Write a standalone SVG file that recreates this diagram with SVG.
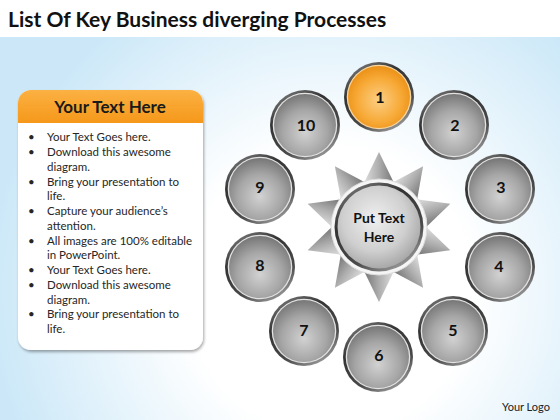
<svg xmlns="http://www.w3.org/2000/svg" xmlns:xlink="http://www.w3.org/1999/xlink" width="560" height="420" viewBox="0 0 560 420">
<defs>
<style>
.title{font-family:"Lato","Liberation Sans",sans-serif;font-weight:bold;font-size:21px;fill:#111}
.hdr{font-family:"Lato","Liberation Sans",sans-serif;font-weight:bold;font-size:17px;fill:#1a1a1a}
.body{font-family:"Lato","Liberation Sans",sans-serif;font-size:11.5px;fill:#262626}
.num{font-family:"Lato","Liberation Sans",sans-serif;font-weight:bold;font-size:16px;fill:#111;text-anchor:middle}
.ctr{font-family:"Lato","Liberation Sans",sans-serif;font-weight:bold;font-size:14px;fill:#111;text-anchor:middle}
.logo{font-family:"Lato","Liberation Sans",sans-serif;font-size:11px;fill:#222}
</style>
<radialGradient id="bg" gradientUnits="userSpaceOnUse" cx="330" cy="290" r="340">
<stop offset="0" stop-color="#ffffff"/>
<stop offset="0.42" stop-color="#ffffff"/>
<stop offset="1" stop-color="#cce8f8"/>
</radialGradient>
<linearGradient id="hdrG" x1="0" y1="0" x2="0" y2="1">
<stop offset="0" stop-color="#fbb143"/>
<stop offset="1" stop-color="#f5981a"/>
</linearGradient>
<linearGradient id="rim" x1="0.2" y1="0" x2="0.8" y2="1">
<stop offset="0" stop-color="#7a7a7a"/>
<stop offset="0.3" stop-color="#333333"/>
<stop offset="0.7" stop-color="#4a4a4a"/>
<stop offset="1" stop-color="#a8a8a8"/>
</linearGradient>
<radialGradient id="sph" cx="0.5" cy="0.62" r="0.6">
<stop offset="0" stop-color="#d2d2d2"/>
<stop offset="0.6" stop-color="#a6a6a6"/>
<stop offset="1" stop-color="#7a7a7a"/>
</radialGradient>
<radialGradient id="sphO" cx="0.5" cy="0.55" r="0.6">
<stop offset="0" stop-color="#fccf84"/>
<stop offset="0.6" stop-color="#f7a936"/>
<stop offset="1" stop-color="#e88a0e"/>
</radialGradient>
<radialGradient id="ctrG" cx="0.45" cy="0.4" r="0.65">
<stop offset="0" stop-color="#efefef"/>
<stop offset="0.6" stop-color="#cfcfcf"/>
<stop offset="1" stop-color="#a0a0a0"/>
</radialGradient>
<linearGradient id="spikeG" gradientUnits="userSpaceOnUse" x1="364" y1="0" x2="394" y2="0">
<stop offset="0" stop-color="#dedede"/>
<stop offset="0.5" stop-color="#adadad"/>
<stop offset="1" stop-color="#747474"/>
</linearGradient>
<filter id="sh" x="-10%" y="-10%" width="130%" height="130%">
<feDropShadow dx="1" dy="2" stdDeviation="1.5" flood-color="#000" flood-opacity="0.35"/>
</filter>
<polygon id="spike" points="364,183 379,152 394,183" fill="url(#spikeG)"/>
<g id="ball">
<circle r="35" fill="url(#rim)"/>
<circle r="32.3" fill="#e2e2e2"/>
<circle r="31" fill="url(#sph)"/>
</g>
<g id="ballO">
<circle r="35" fill="url(#rim)"/>
<circle r="32.3" fill="#f6d6a2"/>
<circle r="31" fill="url(#sphO)"/>
</g>
</defs>
<rect x="0" y="0" width="560" height="420" fill="url(#bg)"/>
<rect x="0" y="0" width="560" height="37" fill="#ffffff"/>
<text class="title" x="8" y="27">List Of Key Business diverging Processes</text>

<g id="textbox">
<rect x="18" y="90" width="185" height="260" rx="13" fill="#ffffff" filter="url(#sh)"/>
<path d="M18,123 V103 A13,13 0 0 1 31,90 H190 A13,13 0 0 1 203,103 V123 Z" fill="url(#hdrG)"/>
<text class="hdr" x="110" y="113" text-anchor="middle">Your Text Here</text>
<g class="body">
<text x="28" y="141">•</text><text x="47" y="141">Your Text Goes here.</text>
<text x="28" y="156">•</text><text x="47" y="156">Download this awesome</text>
<text x="47" y="171">diagram.</text>
<text x="28" y="186">•</text><text x="47" y="186">Bring your presentation to</text>
<text x="47" y="200">life.</text>
<text x="28" y="215">•</text><text x="47" y="215">Capture your audience’s</text>
<text x="47" y="230">attention.</text>
<text x="28" y="245">•</text><text x="47" y="245">All images are 100% editable</text>
<text x="47" y="259">in PowerPoint.</text>
<text x="28" y="274">•</text><text x="47" y="274">Your Text Goes here.</text>
<text x="28" y="289">•</text><text x="47" y="289">Download this awesome</text>
<text x="47" y="304">diagram.</text>
<text x="28" y="318">•</text><text x="47" y="318">Bring your presentation to</text>
<text x="47" y="333">life.</text>
</g>
</g>

<g id="connectors"></g>

<g id="center">
<use xlink:href="#spike" href="#spike"/>
<use xlink:href="#spike" href="#spike" transform="rotate(36 379 227)"/>
<use xlink:href="#spike" href="#spike" transform="rotate(72 379 227)"/>
<use xlink:href="#spike" href="#spike" transform="rotate(108 379 227)"/>
<use xlink:href="#spike" href="#spike" transform="rotate(144 379 227)"/>
<use xlink:href="#spike" href="#spike" transform="rotate(180 379 227)"/>
<use xlink:href="#spike" href="#spike" transform="rotate(216 379 227)"/>
<use xlink:href="#spike" href="#spike" transform="rotate(252 379 227)"/>
<use xlink:href="#spike" href="#spike" transform="rotate(288 379 227)"/>
<use xlink:href="#spike" href="#spike" transform="rotate(324 379 227)"/>
<circle cx="379" cy="227" r="48" fill="#f5f5f5" stroke="#dcdcdc" stroke-width="1"/>
<circle cx="379" cy="227" r="44.5" fill="url(#rim)"/>
<circle cx="379" cy="227" r="41.5" fill="url(#ctrG)"/>
<text class="ctr" x="379" y="223">Put Text</text>
<text class="ctr" x="379" y="242">Here</text>
</g>

<g id="n1" transform="translate(379,97)"><use xlink:href="#ballO" href="#ballO"/><text class="num" x="1" y="6">1</text></g>
<g id="n2" transform="translate(454,125)"><use xlink:href="#ball" href="#ball"/><text class="num" x="1" y="6">2</text></g>
<g id="n3" transform="translate(500,189)"><use xlink:href="#ball" href="#ball"/><text class="num" x="1" y="4">3</text></g>
<g id="n4" transform="translate(500,267)"><use xlink:href="#ball" href="#ball"/><text class="num" x="-1" y="5">4</text></g>
<g id="n5" transform="translate(453,331)"><use xlink:href="#ball" href="#ball"/><text class="num" x="0" y="5">5</text></g>
<g id="n6" transform="translate(378,357)"><use xlink:href="#ball" href="#ball"/><text class="num" x="1" y="4">6</text></g>
<g id="n7" transform="translate(304,331)"><use xlink:href="#ball" href="#ball"/><text class="num" x="0" y="5">7</text></g>
<g id="n8" transform="translate(260,267)"><use xlink:href="#ball" href="#ball"/><text class="num" x="0" y="4">8</text></g>
<g id="n9" transform="translate(260,189)"><use xlink:href="#ball" href="#ball"/><text class="num" x="0" y="4">9</text></g>
<g id="n10" transform="translate(305,125)"><use xlink:href="#ball" href="#ball"/><text class="num" x="1" y="6">10</text></g>

<text class="logo" x="502" y="411">Your Logo</text>
</svg>
